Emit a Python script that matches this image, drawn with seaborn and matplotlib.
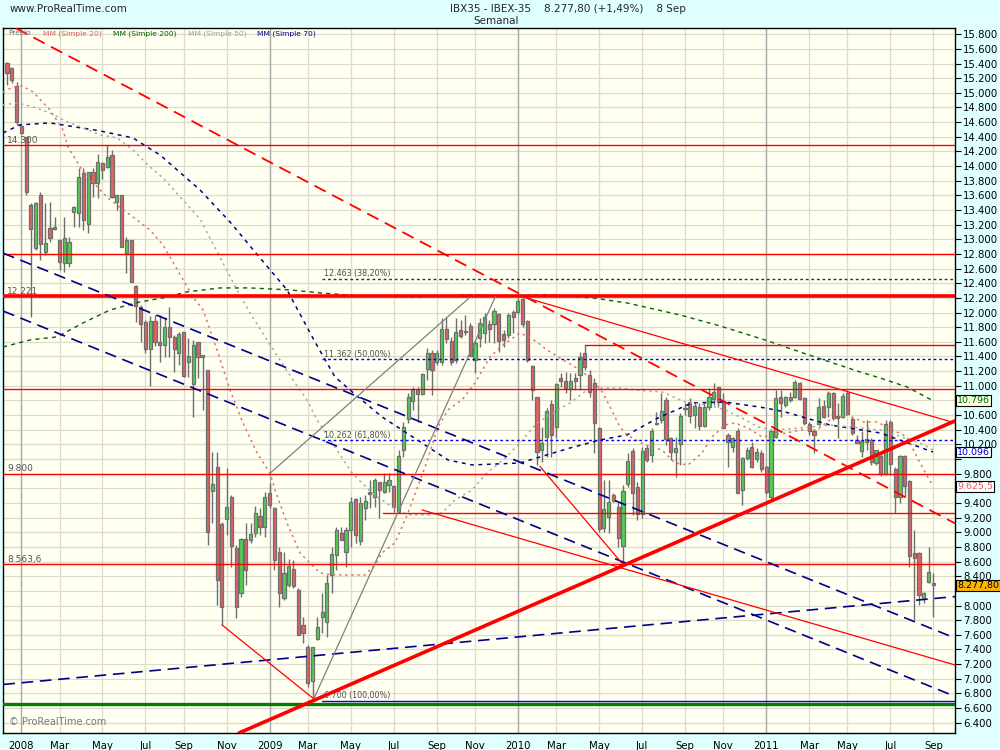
import numpy as np
import pandas as pd
import matplotlib
matplotlib.use("Agg")
import matplotlib.pyplot as plt
import matplotlib.dates as mdates
import seaborn as sns

# ------------------------------------------------------------------ data
start_week = "2007-12-17"   # weekly candles (Monday of each week)

opens = [15404,15335,15094,14548,14393,13469,12878,13606,12823,13151,13137,12991,12682,12673,13369,13355,13902,13205,13915,13765,
         14038,13984,14147,13515,13601,12810,12987,12359,12081,11868,11500,11890,11600,11558,11799,11662,11444,11731,11330,11021,
         11594,11389,11212,9564,9897,9109,9178,9478,8782,8167,8905,8895,8986,9228,9078,9532,9328,8736,8099,8281,
         8495,8213,7735,7430,6975,7539,7840,7781,8418,8686,8987,8736,9032,9451,8886,9328,9546,9478,9683,9555,
         9647,9633,9282,10124,10543,10798,10943,10889,11235,11453,11330,11330,11772,11617,11353,11763,11731,11817,11353,11649,
         11717,11840,11840,11981,11708,11694,12004,12004,12186,11881,11267,10843,10124,10306,10748,10434,11107,11066,10957,11103,
         11148,11453,11148,11034,10420,9055,9214,9505,9341,8818,9660,10115,9623,9250,10147,10056,10488,10534,10807,10283,
         10101,10206,10679,10775,10602,10716,10452,10716,10816,10980,10793,10329,10160,10383,9578,10019,10170,9997,10088,9897,
         9487,10306,10843,10739,10852,10843,11043,10830,10479,10384,10479,10725,10707,10898,10588,10579,10907,10543,10261,10115,
         10238,10261,9951,10042,9796,10511,9860,9478,10042,9705,8722,8722,8085,8322,8304]
highs = [15426,15350,15153,14575,14400,13492,13515,13651,13492,13515,13310,13000,13310,13037,13450,13970,13970,13920,13970,14170,
         14060,14290,14220,13601,13601,13037,12987,12377,12100,11900,11950,11968,11968,11945,12081,11694,11740,11740,11649,11626,
         11603,11420,11212,10101,10101,9145,9874,9510,8827,8918,9123,9123,9358,9328,9550,9669,9350,8805,8736,8640,
         8622,8240,7849,7462,7439,7843,8168,8418,8804,9077,9077,9077,9487,9465,9487,9510,9715,9738,9692,9806,
         9806,9647,10124,10511,10898,10989,10989,11171,11512,11490,11490,11922,11945,11663,11922,11899,11968,11854,11626,11922,
         11990,11899,12058,11990,11763,11990,12036,12195,12218,11899,11285,10852,10443,10693,10807,11034,11171,11194,11171,11171,
         11467,11558,11216,11103,10443,9715,9715,9533,9419,9646,10079,10147,9692,10170,10192,10420,10647,10898,10852,10306,
         10306,10625,10761,10829,10761,10761,10784,10966,11034,10989,10898,10352,10306,10420,10033,10170,10238,10147,10124,9919,
         10383,10943,10943,10861,10921,11080,11057,10843,10511,10398,10830,10807,10934,10921,10761,10898,10943,10579,10329,10388,
         10534,10283,10056,10079,10534,10534,9897,10056,10056,9715,9032,8736,8190,8804,8440]
lows = [15108,15130,14562,14440,13606,11945,12850,12718,12787,12969,13128,12582,12559,12628,13174,13174,13128,13092,13580,13560,
        13820,13980,13560,13400,12900,12545,12413,11877,11600,11450,11000,11550,11330,11398,11398,11194,11285,11116,11126,10579,
        11103,10670,8827,9123,8008,7735,8963,8531,7826,8122,8281,8850,8940,8963,8940,9328,8486,7985,8076,8254,
        8236,7598,7484,6893,6734,7530,7621,7576,8168,8486,8895,8531,8804,8859,8827,9169,9328,9351,9191,9533,
        9555,9282,9260,10033,10488,10670,10511,10875,11080,10875,11285,11285,11581,11285,11308,11650,11695,11400,11171,11535,
        11580,11603,11580,11467,11535,11649,11717,11990,11803,11330,10807,9919,9965,10033,10033,10283,10989,10898,10807,10943,
        10943,11216,10852,10079,9009,9009,8986,9419,8804,8577,9624,9237,9168,9191,9965,9965,10465,10488,10192,9988,
        9760,9919,10602,10488,10420,10397,10434,10670,10738,10716,10420,9897,10101,9533,9373,9988,9874,9965,9828,9523,
        9441,10283,10579,10716,10784,10830,10807,10465,10329,10079,10465,10556,10579,10534,10283,10556,10602,10329,10215,10033,
        10124,9919,9919,9769,9783,9783,9259,9396,9487,8531,7803,8008,8031,8304,7849]
closes = [15276,15176,14598,14448,13651,13137,13492,12932,12946,13014,13163,12687,13014,12960,13437,13847,13265,13915,13765,14052,
          13947,14120,13574,13601,12900,12987,12413,12090,11850,11500,11890,11600,11560,11799,11671,11499,11703,11135,11408,11553,
          11398,11417,9000,9655,8349,7985,9341,8818,7976,8905,8486,8973,9259,9078,9478,9373,8622,8167,8440,8540,
          8267,7598,7621,6948,7430,7703,7917,8313,8704,9032,8895,9032,9419,8964,9405,9428,9519,9715,9578,9692,
          9715,9341,10042,10443,10852,10943,10889,11162,11453,11216,11453,11772,11635,11330,11740,11681,11749,11408,11580,11863,
          11936,11772,12027,11612,11626,11967,11936,12159,11840,11353,10943,10092,10215,10661,10324,11021,11071,10975,11066,11071,
          11389,11253,10921,10488,9041,9314,9410,9428,8927,9564,9974,9533,9250,10115,9988,10383,10475,10656,10270,10097,
          10147,10593,10693,10588,10725,10452,10716,10852,10920,10784,10420,10238,10283,9542,10010,10124,9887,10101,9860,9555,
          10383,10829,10761,10843,10807,11057,10816,10488,10388,10329,10707,10579,10907,10556,10556,10866,10616,10352,10224,10252,
          10274,9965,10124,9796,10475,9933,9478,10042,9633,8677,8645,8144,8176,8454,8278]

# moving averages (week index, value)
ma20_w = [-0.84,1.26,3.14,5.45,9.01,11.73,12.77,15.71,19.48,21.57,26.39,29.95,32.67,38.95,41.05,43.98,46.70,49.42,52.36,55.08,
          56.13,58.64,61.36,65.55,68.06,74.97,77.07,78.53,81.26,83.98,87.54,90.26,92.36,95.29,98.01,101.15,103.87,105.97,107.43,109.11,
          110.99,113.09,115.81,120.00,122.72,124.82,126.91,128.38,129.84,133.61,137.17,139.90,142.62,145.55,147.64,150.37,152.46,155.18,158.12,160.21,
          163.35,166.07,169.63,172.36,175.92,179.27,182.20,188.48,191.20,193.93]
ma20_v = [15012,15080,15094,15012,14766,14493,14261,13947,13674,13538,13305,13128,12923,12213,12035,11489,10943,10493,10083,9810,
          9578,9127,8718,8445,8418,8418,8554,8718,8855,9264,9892,10438,10671,10807,11039,11394,11558,11654,11722,11667,
          11599,11489,11380,11216,11080,10902,10629,10438,10329,10192,10124,9946,9919,10083,10301,10465,10493,10424,10301,10329,
          10356,10397,10397,10534,10602,10506,10506,10301,9946,9625.5]
ma50_w = [-0.84,2.09,5.45,9.01,12.57,15.92,19.48,23.04,26.39,29.95,32.67,40.42,48.17,50.89,54.45,57.17,59.90,62.83,64.92,68.69,
          72.25,76.44,80.63,83.98,88.17,91.10,93.82,97.38,100.52,103.87,107.43,110.99,114.35,117.91,121.47,124.82,128.38,131.52,137.17,141.99,
          146.81,150.37,153.93,157.28,160.21,166.07,172.36,182.83,191.20,193.93]
ma50_v = [14835,14862,14807,14725,14603,14521,14425,14384,14220,13988,13838,13278,12309,11995,11626,11353,11080,10807,10534,10165,
          9810,9537,9346,9237,9237,9264,9442,9578,9810,9987,10219,10493,10629,10766,10943,10971,10971,10943,10916,10779,
          10738,10670,10561,10438,10397,10424,10465,10397,10219,10124]
ma70_w = [-0.84,2.72,9.01,19.48,26.39,29.32,32.04,40.42,46.70,52.98,58.64,64.50,68.69,73.51,78.53,83.35,88.17,92.36,97.38,107.43,
          117.91,124.19,129.84,136.34,143.46,150.37,158.74,162.93,172.36,182.83,193.93]
ma70_v = [14452,14562,14589,14480,14384,14261,14152,13674,13237,12746,12309,11599,11121,10848,10575,10370,10165,9987,9919,9946,
          10151,10260,10329,10561,10766,10779,10698,10643,10465,10356,10096]
ma200_w = [-0.84,4.82,10.47,15.92,21.57,27.85,32.67,37.70,44.61,50.89,59.27,65.55,73.93,86.49,96.96,103.87,113.72,122.72,129.84,140.94,
           149.32,158.74,166.07,172.36,178.64,182.83,188.48,193.93]
ma200_v = [11530,11626,11667,11858,12035,12145,12200,12282,12336,12336,12309,12268,12227,12213,12241,12227,12241,12200,12131,11967,
           11817,11626,11462,11325,11189,11107,10984,10796]

# drawn objects (prices; week index where needed)
hlevels_red = [14290, 12800, 10955, 9800, 8563.6]
hlevel_thick = 12221
hlevel_green = 6655
hlevels_from = [(78.7, 9260), (121.0, 11558)]
left_labels = [(14290, "14.300"), (12221, "12.221"), (9800, "9.800"), (8563.6, "8.563,6")]
fib_start = 66.0
fib_levels = [12463, 11362, 10262, 6700]
fib_texts = ["12.463 (38,20%)", "11.362 (50,00%)", "10.262 (61,80%)", "6.700 (100,00%)"]
fib_colors = ["#303030", "#0000ee", "#0000ee", "#0000ee"]
# infinite trend lines: (w1, p1, w2, p2)
line_red_dash = (10.47, 15586, 194.8, 9250)
line_red_thick = (64.08, 6700, 129.0, 8545)
lines_blue = [(2.72, 12718, 187.6, 7844), (4.82, 11872, 127.96, 8622), (32.04, 7120, 196.0, 8107)]
# segments: (w1, p1, w2, p2, colour)
segments = [(108.06, 12213, 198.5, 10493, "red"),
            (86.9, 9305, 198.5, 7189, "red"),
            (111.6, 9900, 129.0, 8560, "red"),
            (45.03, 7735, 64.08, 6734, "red"),
            (55.08, 9806, 96.96, 12209, "#808080"),
            (64.08, 6700, 102.3, 12221, "#808080")]
last_values = [(10796, "10.796", "#006400", "#ffffe8"), (10096, "10.096", "#0000cc", "white"),
               (9625.5, "9.625,5", "#e06060", "white"), (8277.8, "8.277,80", "black", "#ffb400")]
y_ticks = list(range(6400, 15801, 200))
hidden_ticks = [10800, 10000, 9600, 8200]   # covered by the last-value boxes
tick_months = [1, 3, 5, 7, 9, 11]
month_names = {3: "Mar", 5: "May", 7: "Jul", 9: "Sep", 11: "Nov"}

# ------------------------------------------------------------------ style
sns.set_style("white")
plt.rcParams["font.family"] = ["DejaVu Sans"]

HEAD_BG = "#e0ffff"
PLOT_BG = "#fffff2"
GRID = "#dddccb"
UP = "#4fd04f"
DOWN = "#e06262"
EDGE = "#6e6e6e"

fig = plt.figure(figsize=(10, 7.5), dpi=100, facecolor=HEAD_BG)
ax = fig.add_axes([0.0033, 0.0227, 0.9517, 0.9397])
ax.set_facecolor(PLOT_BG)

t0 = mdates.date2num(pd.Timestamp(start_week))
def wx(w):
    return t0 + np.asarray(w, dtype=float) * 7.0

df = pd.DataFrame({"date": pd.date_range(start_week, periods=len(closes), freq="7D"),
                   "open": opens, "high": highs, "low": lows, "close": closes})
df["high"] = df[["high", "open", "close"]].max(axis=1)
df["low"] = df[["low", "open", "close"]].min(axis=1)
x = mdates.date2num(df["date"])

ax.set_xlim(t0 - 5.4, t0 + 198.53 * 7)
ax.set_ylim(6260, 15882)

# grid
for v in y_ticks:
    ax.axhline(v, color=GRID, lw=0.9, zorder=0)
tick_pos, tick_lab, tick_year = [], [], []
seen = set()
for d, xv in zip(df["date"], x):
    key = (d.year, d.month)
    if d.month in tick_months and key not in seen:
        seen.add(key)
        tick_pos.append(xv)
        tick_lab.append(str(d.year) if d.month == 1 else month_names[d.month])
        tick_year.append(d.month == 1)
for xv, yr in zip(tick_pos, tick_year):
    ax.axvline(xv, color="#a8a8a8" if yr else GRID, lw=1.0 if yr else 0.9, zorder=0)

# candles
up = df["close"] >= df["open"]
ax.vlines(x, df["low"], df["high"], color=EDGE, lw=1.0, zorder=2)
body_lo = np.minimum(df["open"], df["close"])
body_h = np.maximum(np.abs(df["close"] - df["open"]), 12)
ax.bar(x, body_h, bottom=body_lo, width=4.6,
       color=np.where(up, UP, DOWN), edgecolor=EDGE, linewidth=0.9, zorder=3)

# moving averages (seaborn)
sns.lineplot(x=wx(ma200_w), y=ma200_v, ax=ax, color="#006400", lw=1.0,
             linestyle=(0, (3, 3)), sort=False, estimator=None, zorder=4)
sns.lineplot(x=wx(ma70_w), y=ma70_v, ax=ax, color="#00008b", lw=1.1,
             linestyle=(0, (2.5, 3)), sort=False, estimator=None, zorder=4)
sns.lineplot(x=wx(ma50_w), y=ma50_v, ax=ax, color="#a8a8a0", lw=1.1,
             linestyle=(0, (1.5, 2.5)), sort=False, estimator=None, zorder=4)
sns.lineplot(x=wx(ma20_w), y=ma20_v, ax=ax, color="#e07070", lw=1.1,
             linestyle=(0, (1.5, 2.5)), sort=False, estimator=None, zorder=4)

# horizontal levels
for v in hlevels_red:
    ax.axhline(v, color="red", lw=1.0, zorder=5)
ax.axhline(hlevel_thick, color="red", lw=2.6, zorder=5)
ax.axhline(hlevel_green, color="#008000", lw=2.4, zorder=5)
xmax = ax.get_xlim()[1]
for w, v in hlevels_from:
    ax.plot([wx(w), xmax], [v, v], color="red", lw=1.0, zorder=5)
for v, lab in left_labels:
    ax.text(0.004, v + 65, lab, transform=ax.get_yaxis_transform(), fontsize=6.5,
            color="#555555", va="center", ha="left", zorder=7)

# fibonacci levels
for v, lab, c in zip(fib_levels, fib_texts, fib_colors):
    ls = "-" if v == 6700 else (0, (2, 2))
    ax.plot([wx(fib_start), xmax], [v, v], color=c, lw=1.0, linestyle=ls, zorder=5)
    ax.text(wx(fib_start + 0.3), v + 65, lab, fontsize=5.8, color="#505050",
            va="center", ha="left", zorder=7)

# trend lines
w1, p1, w2, p2 = line_red_dash
ax.axline((wx(w1), p1), (wx(w2), p2), color="red", lw=1.3, linestyle=(0, (7, 4)), zorder=5)
w1, p1, w2, p2 = line_red_thick
ax.axline((wx(w1), p1), (wx(w2), p2), color="red", lw=2.6, zorder=6)
for w1, p1, w2, p2 in lines_blue:
    ax.axline((wx(w1), p1), (wx(w2), p2), color="#00008b", lw=1.2, linestyle=(0, (7, 4)), zorder=5)
for w1, p1, w2, p2, c in segments:
    ax.plot([wx(w1), wx(w2)], [p1, p2], color=c, lw=0.9, zorder=5)

# axes / ticks
ax.yaxis.tick_right()
ax.set_yticks(y_ticks)
ax.set_yticklabels(["" if v in hidden_ticks else f"{v:,}".replace(",", ".") for v in y_ticks],
                   fontsize=7.3)
ax.set_xticks(tick_pos)
ax.set_xticklabels(tick_lab, fontsize=7.3)
ax.tick_params(axis="y", direction="out", length=4, width=0.8, pad=2, colors="black")
ax.tick_params(axis="x", direction="out", length=4, width=0.8, pad=2, colors="black")
ax.set_xlabel("")
ax.set_ylabel("")
for s in ax.spines.values():
    s.set_color("black")
    s.set_linewidth(1.0)
    s.set_visible(True)

# last-value boxes
for v, lab, tc, bg in last_values:
    ax.text(1.0025, v, lab, transform=ax.get_yaxis_transform(), fontsize=6.8, color=tc,
            va="center", ha="left", zorder=10, clip_on=False,
            bbox=dict(boxstyle="square,pad=0.1", fc=bg, ec="black", lw=0.8))

# legend row
legend_items = [("Precio", "#707070", 0.0049), ("MM (Simple 20)", "#e06060", 0.0417),
                ("MM (Simple 200)", "#006400", 0.1153), ("MM (Simple 50)", "#a0a0a0", 0.194),
                ("MM (Simple 70)", "#00008b", 0.2666)]
for lab, c, xf in legend_items:
    ax.text(xf, 0.9926, lab, transform=ax.transAxes, fontsize=5.4, color=c,
            va="center", ha="left", zorder=8)

ax.text(0.006, 0.009, "© ProRealTime.com", transform=ax.transAxes, fontsize=7,
        color="#7a7a7a", va="bottom", ha="left", zorder=8)

# header
fig.text(0.010, 1 - 8.5 / 750, "www.ProRealTime.com", fontsize=7.5, va="center", ha="left")
fig.text(0.450, 1 - 8.5 / 750, "IBX35 - IBEX-35    8.277,80 (+1,49%)    8 Sep",
         fontsize=7.5, va="center", ha="left")
fig.text(0.473, 1 - 20.5 / 750, "Semanal", fontsize=7.5, va="center", ha="left")

fig.savefig("out.png", dpi=100, facecolor=HEAD_BG)
